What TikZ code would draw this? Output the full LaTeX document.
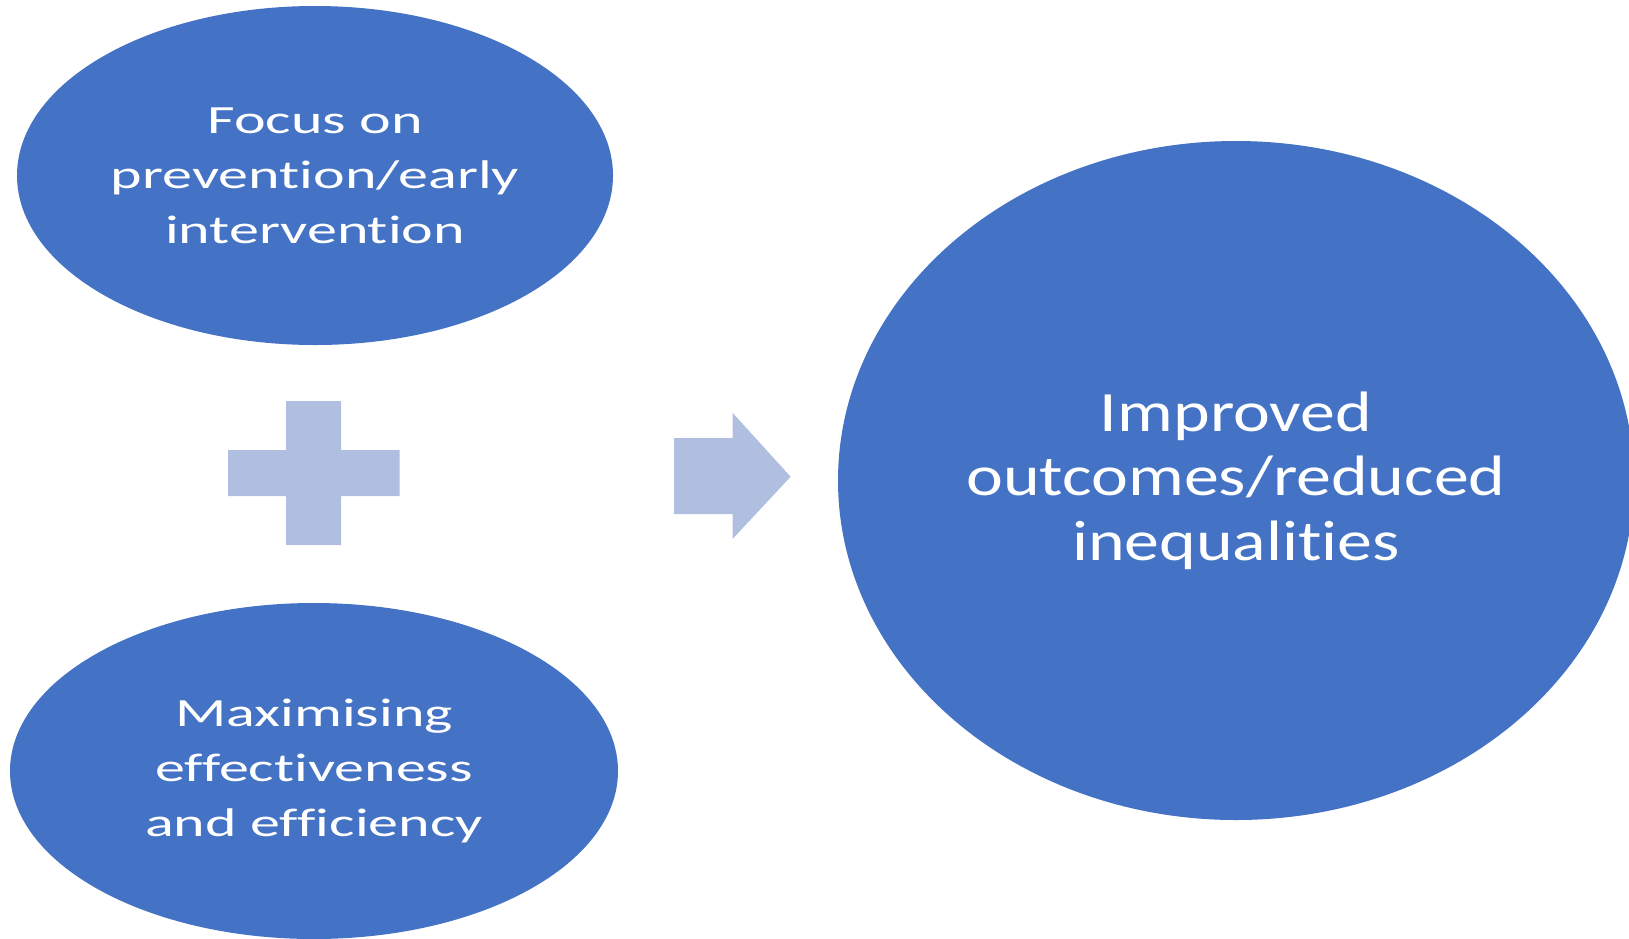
\documentclass[tikz,border=0pt]{standalone}
\usepackage{fontspec}
\setmainfont{Carlito}
\newfontfamily\leftfont[FakeStretch=1.5, Ligatures=NoCommon]{Carlito}
\newfontfamily\rightfont[FakeStretch=1.225, Ligatures=NoCommon]{Carlito}
\usetikzlibrary{shapes.geometric}
\definecolor{ellblue}{HTML}{4472C4}
\definecolor{lightblue}{HTML}{B0BEDF}
\tikzset{
  blob/.style={ellipse, fill=ellblue, draw=none, inner sep=0pt, text=white, align=center},
  smalltext/.style={font=\leftfont\fontsize{40}{55}\selectfont},
  bigtext/.style={font=\rightfont\fontsize{57}{64.5}\selectfont},
  symbolshape/.style={fill=lightblue, draw=none}
}
\begin{document}
\begin{tikzpicture}[x=1pt,y=-1pt]
\useasboundingbox (0,0) rectangle (1629,938);
\clip (0,0) rectangle (1629,938);
% ellipses
\node[blob, smalltext, minimum width=596pt, minimum height=339pt] (focus) at (315,175.5)
  {Focus on\\prevention/early\\intervention};
\node[blob, smalltext, minimum width=608pt, minimum height=336pt] (maxim) at (314,771)
  {Maximising\\effectiveness\\and efficiency};
\node[blob, bigtext, minimum width=796pt, minimum height=679pt] (outcome) at (1236,480.5)
  {Improved\\outcomes/reduced\\inequalities};
% plus sign
\fill[symbolshape] (286,401) -- (341,401) -- (341,450) -- (399.5,450) -- (399.5,496)
  -- (341,496) -- (341,545) -- (286,545) -- (286,496) -- (228,496) -- (228,450)
  -- (286,450) -- cycle;
% arrow
\fill[symbolshape] (674,438) -- (732.5,438) -- (732.5,412.7) -- (790.6,476.7)
  -- (732.5,539) -- (732.5,514) -- (674,514) -- cycle;
\end{tikzpicture}
\end{document}
